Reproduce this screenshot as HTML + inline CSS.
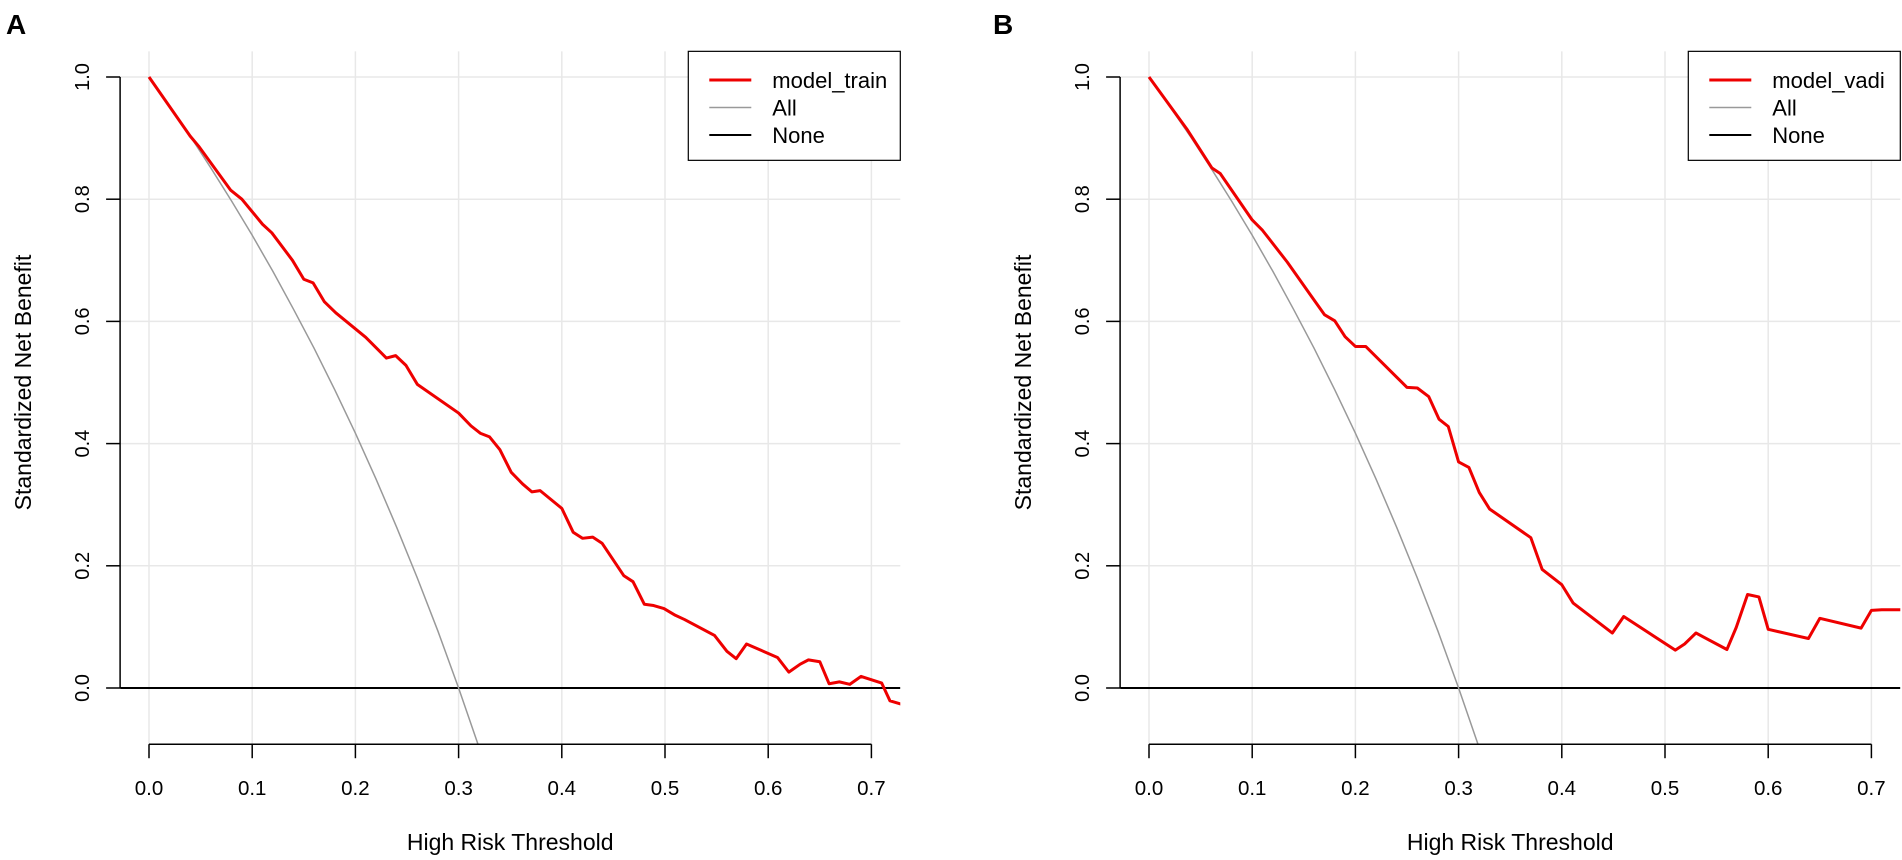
<!DOCTYPE html>
<html><head><meta charset="utf-8"><style>
html,body{margin:0;padding:0;background:#fff;}
svg{display:block;font-family:"Liberation Sans",Arial,sans-serif;}
</style></head><body>
<svg id="chart" width="1902" height="860" viewBox="0 0 1902 860">
<text x="6" y="34" font-size="28" font-weight="bold">A</text>
<text x="993" y="34" font-size="28" font-weight="bold">B</text>
</svg>
<script>
const xTicks=[0,0.1,0.2,0.3,0.4,0.5,0.6,0.7];
const xTickLabels=["0.0","0.1","0.2","0.3","0.4","0.5","0.6","0.7"];
const yTicks=[0,0.2,0.4,0.6,0.8,1.0];
const yTickLabels=["0.0","0.2","0.4","0.6","0.8","1.0"];
const allX=[0,0.02,0.04,0.06,0.08,0.10,0.12,0.14,0.16,0.18,0.20,0.22,0.24,0.26,0.28,0.30,0.32];
const allY=[1,0.952,0.903,0.851,0.797,0.741,0.682,0.620,0.556,0.488,0.417,0.342,0.263,0.180,0.093,0,-0.098];
const trainX=[0,0.04,0.048,0.079,0.09,0.11,0.119,0.139,0.15,0.159,0.17,0.181,0.21,0.23,0.239,0.249,0.26,0.30,0.312,0.321,0.33,0.34,0.351,0.362,0.371,0.379,0.40,0.411,0.42,0.43,0.439,0.46,0.469,0.48,0.489,0.499,0.51,0.519,0.548,0.56,0.569,0.579,0.609,0.62,0.631,0.639,0.65,0.659,0.669,0.679,0.69,0.71,0.718,0.73];
const trainY=[1,0.903,0.887,0.815,0.8,0.759,0.745,0.70,0.669,0.663,0.632,0.614,0.574,0.54,0.544,0.528,0.497,0.45,0.429,0.417,0.411,0.39,0.353,0.334,0.321,0.323,0.294,0.255,0.245,0.247,0.237,0.184,0.174,0.137,0.135,0.13,0.119,0.112,0.086,0.06,0.048,0.072,0.05,0.026,0.039,0.046,0.043,0.007,0.01,0.006,0.019,0.008,-0.021,-0.027];
const vadiX=[0,0.037,0.061,0.069,0.10,0.11,0.134,0.157,0.17,0.18,0.19,0.20,0.21,0.25,0.26,0.271,0.281,0.29,0.30,0.31,0.32,0.33,0.37,0.381,0.40,0.411,0.449,0.46,0.51,0.519,0.53,0.56,0.569,0.58,0.591,0.60,0.639,0.65,0.69,0.70,0.71,0.73];
const vadiY=[1,0.914,0.851,0.842,0.766,0.749,0.697,0.642,0.611,0.601,0.575,0.559,0.559,0.492,0.491,0.477,0.44,0.428,0.37,0.361,0.32,0.293,0.246,0.194,0.169,0.139,0.09,0.117,0.062,0.072,0.09,0.063,0.099,0.153,0.149,0.096,0.081,0.114,0.098,0.127,0.128,0.128];

const NS="http://www.w3.org/2000/svg";
const svg=document.getElementById('chart');
function mk(tag,attrs,parent){const e=document.createElementNS(NS,tag);for(const k in attrs)e.setAttribute(k,attrs[k]);(parent||svg).appendChild(e);return e;}

function panel(off,id,sx,sy,label){
  const xs=v=>off+149+v*1032;
  const ys=v=>688-v*611;
  const L=xs(-0.028),R=xs(0.728),T=ys(1.042),B=ys(-0.092);
  const g=mk('g',{});
  
  
  const cp=mk('clipPath',{id:'clip-'+id},g);
  mk('rect',{x:L,y:T,width:R-L,height:B-T},cp);
  xTicks.forEach((t,i)=>{
    const l=mk('line',{x1:xs(t),x2:xs(t),y1:T,y2:B,stroke:'#e8e8e8','stroke-width':1.5},g);
    
    
  });
  yTicks.forEach(t=>{
    const l=mk('line',{x1:L,x2:R,y1:ys(t),y2:ys(t),stroke:'#e8e8e8','stroke-width':1.5},g);
    
    
  });
  const pg=mk('g',{'clip-path':'url(#clip-'+id+')'},g);
  const none=mk('line',{x1:L,x2:R,y1:ys(0),y2:ys(0),stroke:'#000','stroke-width':2},pg);
  
  
  const all=mk('polyline',{points:allX.map((x,i)=>xs(x)+','+ys(allY[i])).join(' '),fill:'none',stroke:'#999','stroke-width':1.5},pg);
  
  
  const m=mk('polyline',{points:sx.map((x,i)=>xs(x)+','+ys(sy[i])).join(' '),fill:'none',stroke:'#ee0000','stroke-width':3,'stroke-linejoin':'round'},pg);
  
  
  const xa=mk('line',{x1:xs(0),x2:xs(0.7),y1:B,y2:B,stroke:'#000','stroke-width':1.5},g);
  
  
  xTicks.forEach((t,i)=>{
    mk('line',{x1:xs(t),x2:xs(t),y1:B,y2:B+14,stroke:'#000','stroke-width':1.5},g);
    const tx=mk('text',{x:xs(t),y:795,'font-size':20.5,'text-anchor':'middle',fill:'#000'},g);
    tx.textContent=xTickLabels[i];
    
    
  });
  const ya=mk('line',{x1:L,x2:L,y1:ys(0),y2:ys(1),stroke:'#000','stroke-width':1.5},g);
  
  
  yTicks.forEach((t,i)=>{
    mk('line',{x1:L-14,x2:L,y1:ys(t),y2:ys(t),stroke:'#000','stroke-width':1.5},g);
    const tx=mk('text',{x:0,y:0,'font-size':20,'text-anchor':'middle',transform:'translate('+(off+89)+','+ys(t)+') rotate(-90)'},g);
    tx.textContent=yTickLabels[i];
    
    
  });
  const xt=mk('text',{x:xs(0.35),y:850,'font-size':23,'text-anchor':'middle'},g);
  xt.textContent='High Risk Threshold';
  
  
  const yt=mk('text',{x:0,y:0,'font-size':23,'text-anchor':'middle',transform:'translate('+(off+31)+','+ys(0.5)+') rotate(-90)'},g);
  yt.textContent='Standardized Net Benefit';
  
  
  const lg=mk('g',{},g);
  
  
  const lx=R-212;
  mk('rect',{x:lx,y:T,width:212,height:109,fill:'#fff',stroke:'#000','stroke-width':1.2},lg);
  const items=[[label,'#ee0000',3],['All','#999',1.5],['None','#000',2]];
  items.forEach((it,i)=>{
    const y=80+i*27.5;
    const ln=mk('line',{x1:lx+21,x2:lx+63,y1:y,y2:y,stroke:it[1],'stroke-width':it[2]},lg);
    
    
    const tx=mk('text',{x:lx+84,y:y+8,'font-size':22},lg);
    tx.textContent=it[0];
    
    
  });
}
panel(0,'a',trainX,trainY,'model_train');
panel(1000,'b',vadiX,vadiY,'model_vadi');
</script>
</body></html>
